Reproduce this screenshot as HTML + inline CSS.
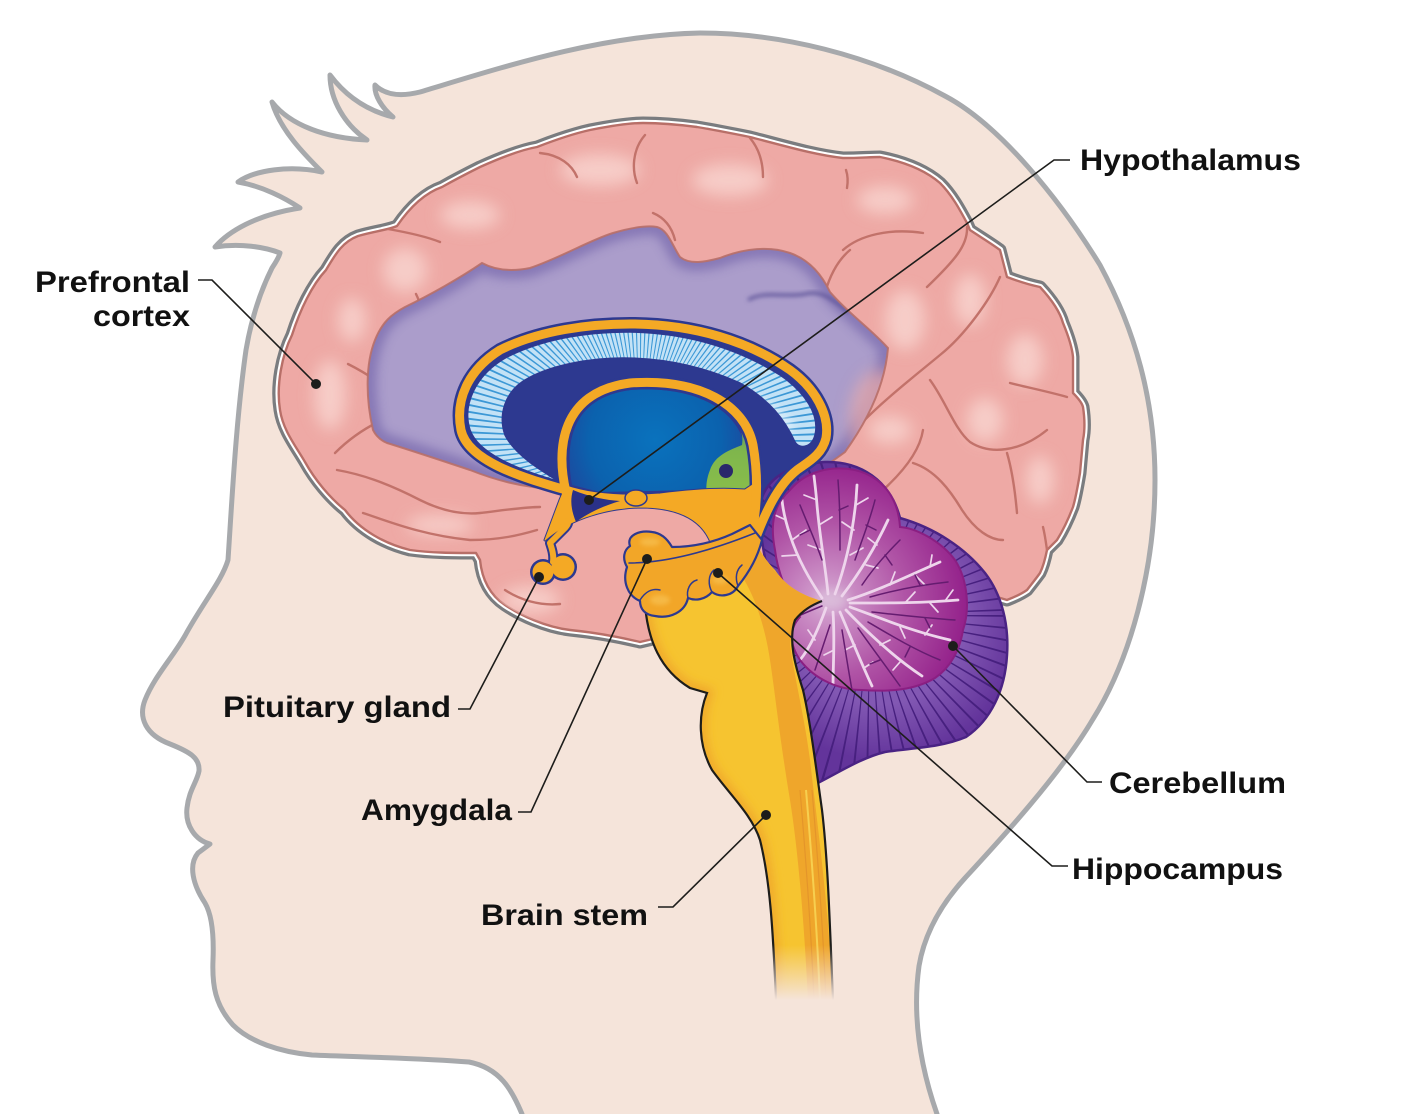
<!DOCTYPE html>
<html><head><meta charset="utf-8"><style>
html,body{margin:0;padding:0;background:#fff;}
svg{display:block;}
.lbl{font-family:"Liberation Sans",Arial,sans-serif;font-weight:bold;font-size:30px;fill:#111;}
</style></head><body>
<svg width="1401" height="1114" viewBox="0 0 1401 1114" xmlns="http://www.w3.org/2000/svg">
<defs>
<filter id="b2" x="-20%" y="-20%" width="140%" height="140%"><feGaussianBlur stdDeviation="2"/></filter>
<filter id="b5" x="-30%" y="-30%" width="160%" height="160%"><feGaussianBlur stdDeviation="5"/></filter>
<filter id="b8" x="-50%" y="-50%" width="200%" height="200%"><feGaussianBlur stdDeviation="8"/></filter>
<radialGradient id="gBlue" cx="655" cy="440" r="110" gradientUnits="userSpaceOnUse">
<stop offset="0" stop-color="#0a72bd"/><stop offset="0.6" stop-color="#0b62ae"/><stop offset="1" stop-color="#243f98"/></radialGradient>
<radialGradient id="gMag" cx="828" cy="600" r="140" gradientUnits="userSpaceOnUse">
<stop offset="0" stop-color="#d6acd4"/><stop offset="0.22" stop-color="#c786c1"/><stop offset="0.55" stop-color="#b054a6"/><stop offset="1" stop-color="#93208a"/></radialGradient>
<radialGradient id="gCb" cx="880" cy="620" r="140" gradientUnits="userSpaceOnUse">
<stop offset="0.6" stop-color="#8258b3"/><stop offset="1" stop-color="#63349b"/></radialGradient>
<linearGradient id="gGreen" x1="0" y1="395" x2="0" y2="520" gradientUnits="userSpaceOnUse">
<stop offset="0" stop-color="#2f6fa0"/><stop offset="0.45" stop-color="#7fb64c"/><stop offset="1" stop-color="#8fc24a"/></linearGradient>
<linearGradient id="gFade" x1="0" y1="945" x2="0" y2="1000" gradientUnits="userSpaceOnUse">
<stop offset="0" stop-color="#f5e4da" stop-opacity="0"/><stop offset="1" stop-color="#f5e4da" stop-opacity="1"/></linearGradient>
<clipPath id="cBrain"><path id="brainP" d="M 640,642 C 615,636 590,632 570,630 C 545,627 520,615 505,605 C 490,595 482,580 480,560 L 476,553 C 455,553 430,553 410,550 C 385,544 360,530 345,510 C 330,498 315,480 305,462 C 295,445 283,430 280,410 C 276,385 282,355 292,335 C 300,310 312,285 326,270 C 335,255 342,242 358,236 C 375,231 388,230 397,226 C 410,207 425,193 442,187 C 458,178 470,172 480,167 C 500,158 520,150 537,147 C 555,140 572,134 590,130 C 610,126 628,123 643,123 C 662,123 682,125 697,127 C 715,130 735,134 750,137 C 785,146 815,155 843,158 C 860,158 870,157 880,157 C 905,162 925,170 940,183 C 952,195 960,210 967,223 L 970,230 C 982,238 992,244 1000,250 L 1007,277 C 1020,282 1030,285 1040,287 C 1052,300 1060,312 1063,323 C 1068,335 1072,346 1073,357 L 1073,393 C 1078,398 1082,403 1083,407 C 1085,420 1085,430 1083,440 C 1082,452 1081,463 1080,473 C 1078,485 1076,497 1073,507 C 1068,520 1062,532 1057,540 L 1047,550 C 1045,560 1043,567 1040,573 C 1035,580 1030,586 1027,590 C 1020,595 1012,598 1007,600 L 997,597 L 900,612 L 800,612 L 700,628 Z"/></clipPath>
<clipPath id="cPurple"><path id="purpleP" d="M 373,430 C 366,400 365,365 375,340 C 382,322 392,314 405,307 C 430,295 460,278 482,263 C 495,270 510,272 530,268 C 560,258 590,240 613,233 C 630,228 645,225 657,227 C 668,230 672,245 680,257 C 690,265 705,262 720,258 C 745,248 770,246 790,253 C 810,260 822,275 830,292 C 850,315 870,328 888,348 C 885,385 868,420 845,452 L 820,470 L 560,492 C 548,490 540,488 533,487 C 510,484 490,478 470,470 C 440,460 410,450 387,443 C 380,440 376,436 373,430 Z"/></clipPath>
<clipPath id="cBand"><path id="bandP" d="M 563,484 C 530,472 480,458 470,430 C 462,405 475,375 507,357 C 545,338 590,332 630,332 C 690,333 740,350 780,375 C 805,392 820,415 815,435 C 812,447 800,450 795,442 C 785,420 770,400 740,383 C 700,365 660,358 623,358 C 590,358 550,365 525,380 C 505,392 498,415 505,435 C 515,455 540,470 563,484 Z"/></clipPath>
<clipPath id="cCb"><path id="cbP" d="M 800,790 L 790,700 L 780,620 C 770,580 758,540 760,505 C 765,478 790,464 825,462 C 860,461 890,480 900,518 C 935,528 965,548 985,573 C 1002,595 1009,625 1007,655 C 1005,690 991,720 966,737 C 940,748 910,748 885,752 C 860,758 835,775 808,788 Z"/></clipPath>
<clipPath id="cStem"><path id="stemP" d="M 645,605 C 648,640 660,670 690,688 L 707,693 C 698,715 698,745 712,770 C 730,795 752,815 760,840 C 770,880 773,930 776,1000 L 833,1000 C 830,930 828,860 822,810 C 815,760 810,720 803,690 C 795,665 788,640 795,620 C 803,610 812,605 822,601 C 800,595 785,585 775,570 C 765,560 760,550 757,545 L 700,560 Z"/></clipPath>
<clipPath id="cMag"><path id="magP" d="M 800,617 C 790,600 778,575 775,550 C 770,525 773,505 790,490 C 805,472 830,465 855,470 C 880,476 898,495 900,527 C 915,528 940,540 955,560 C 968,580 970,610 963,630 C 960,650 950,668 935,678 C 915,690 890,692 862,690 C 840,690 815,680 800,660 C 790,645 788,630 800,617 Z"/></clipPath>
</defs>

<!-- HEAD -->
<path d="M 522,1130 L 522,1114 C 512,1090 500,1068 469,1062 C 420,1058 360,1057 312,1055 C 280,1052 250,1042 233,1025 C 215,1005 212,985 213,960 C 214,935 212,915 205,903 C 193,885 188,865 198,853 L 210,844 C 195,840 185,825 187,808 C 189,790 197,782 199,771 C 200,758 190,752 170,744 C 146,735 138,718 145,700 C 155,675 175,655 187,632 C 205,600 222,580 228,560 C 232,500 236,420 246,350 C 252,315 262,288 272,268 C 276,262 279,257 280,253 C 265,247 240,243 215,247 C 228,232 255,215 300,208 C 285,198 262,186 238,182 C 255,170 290,165 322,172 C 305,155 280,130 272,102 C 290,125 325,138 367,140 C 345,125 330,100 330,75 C 345,95 365,110 393,117 C 382,108 374,95 375,85 C 385,95 400,97 420,92 C 500,68 600,35 700,33 C 780,33 870,55 945,96 C 1000,125 1060,200 1100,265 C 1135,330 1155,400 1155,480 C 1155,570 1130,660 1093,719 C 1060,775 1000,840 965,878 C 945,900 925,930 919,966 C 913,1010 918,1060 937,1114 L 937,1130 Z" fill="#f5e4da" stroke="#a7a9ac" stroke-width="5" stroke-linejoin="round"/>

<!-- BRAIN -->
<use href="#brainP" fill="none" stroke="#7a7c7f" stroke-width="13" stroke-linejoin="round"/>
<use href="#brainP" fill="none" stroke="#ffffff" stroke-width="6.5" stroke-linejoin="round"/>
<use href="#brainP" fill="#eea9a5" stroke="#b86f68" stroke-width="2.4" stroke-linejoin="round"/>
<g clip-path="url(#cBrain)">
<g fill="#f8d3ce" opacity="0.85" filter="url(#b8)">
<ellipse cx="600" cy="170" rx="40" ry="16"/><ellipse cx="730" cy="180" rx="38" ry="16"/><ellipse cx="470" cy="215" rx="30" ry="14"/>
<ellipse cx="405" cy="270" rx="22" ry="22"/><ellipse cx="330" cy="395" rx="16" ry="35"/><ellipse cx="352" cy="320" rx="14" ry="22"/>
<ellipse cx="885" cy="200" rx="28" ry="14"/><ellipse cx="970" cy="300" rx="16" ry="26"/><ellipse cx="1025" cy="360" rx="18" ry="26"/>
<ellipse cx="985" cy="420" rx="18" ry="22"/><ellipse cx="905" cy="320" rx="20" ry="30"/><ellipse cx="890" cy="430" rx="22" ry="14"/>
<ellipse cx="530" cy="600" rx="30" ry="14"/><ellipse cx="440" cy="525" rx="34" ry="10"/><ellipse cx="1040" cy="480" rx="14" ry="24"/>
</g>
<g fill="none" stroke="#c2726a" stroke-width="2.4" stroke-linecap="round">
<path d="M 540,153 C 560,155 572,165 577,177"/>
<path d="M 645,135 C 632,150 632,170 637,183"/>
<path d="M 750,138 C 760,150 763,165 763,177"/>
<path d="M 653,213 C 665,218 672,228 675,240"/>
<path d="M 388,229 C 405,232 425,236 440,242"/>
<path d="M 416,294 C 421,304 423,315 423,326"/>
<path d="M 348,364 C 360,370 368,375 377,381"/>
<path d="M 335,453 C 348,440 362,430 378,422"/>
<path d="M 337,470 C 360,474 385,482 420,500 C 440,510 460,515 480,513 C 505,510 525,507 540,507"/>
<path d="M 363,513 C 385,520 420,535 470,540 C 500,540 520,535 537,530"/>
<path d="M 846,170 C 848,176 848,182 847,188"/>
<path d="M 843,250 C 860,235 890,228 923,233"/>
<path d="M 967,227 C 968,245 955,260 927,287"/>
<path d="M 1000,277 C 990,300 965,335 940,355 C 910,380 870,410 840,447"/>
<path d="M 930,380 C 945,400 955,430 970,442 C 990,455 1020,452 1047,430"/>
<path d="M 1010,383 C 1030,388 1050,392 1067,397"/>
<path d="M 1007,453 C 1012,470 1015,490 1017,513"/>
<path d="M 923,430 C 920,450 905,470 883,490"/>
<path d="M 913,463 C 935,470 950,490 962,510 C 975,530 990,540 1003,540"/>
<path d="M 1043,527 C 1045,535 1046,543 1047,550"/>
<path d="M 825,293 C 830,275 838,260 850,250"/>
<path d="M 505,590 C 520,600 540,606 560,604"/>
</g>
</g>

<!-- PURPLE MEDIAL -->
<use href="#purpleP" fill="#ab9dcb"/>
<g clip-path="url(#cPurple)">
<use href="#purpleP" fill="none" stroke="#6f60a8" stroke-width="18" opacity="0.6" filter="url(#b5)"/>
<ellipse cx="880" cy="420" rx="30" ry="50" fill="#eeaca8" opacity="0.7" filter="url(#b8)"/>
<path d="M 748,300 C 765,290 785,298 805,294 C 820,290 832,298 848,312" fill="none" stroke="#5d5298" stroke-width="3" filter="url(#b2)"/>
</g>
<use href="#purpleP" fill="none" stroke="#b86f68" stroke-width="2" clip-path="url(#cBrain)" opacity="0.9"/>

<!-- NAVY REGION -->
<path d="M 566,492 C 525,480 468,464 459,430 C 452,400 466,368 498,348 C 540,328 590,320 630,320 C 697,320 752,338 793,366 C 820,386 834,414 830,440 C 826,458 812,466 800,474 C 782,488 770,515 757,550 L 720,500 L 600,495 Z" fill="#2d3990"/>
<!-- light blue band -->
<use href="#bandP" fill="#c3e2f6"/>
<g clip-path="url(#cBand)">
<circle cx="640" cy="440" r="135" fill="none" stroke="#3c98d6" stroke-width="110" stroke-dasharray="1.5 3.8"/>
<path d="M 600,470 C 560,430 560,390 630,372 C 700,372 760,400 790,430" fill="none" stroke="#e4f2fc" stroke-width="14" opacity="0.8" filter="url(#b5)"/>
</g>
<use href="#bandP" fill="none" stroke="#2d3990" stroke-width="1.5"/>
<!-- inner blue -->
<path d="M 572,485 C 565,445 570,398 630,390 C 695,385 738,410 745,447 C 750,480 748,500 745,510 L 700,490 L 600,492 Z" fill="url(#gBlue)"/>
<!-- green -->
<path d="M 708,395 C 730,405 745,425 742,445 C 730,450 715,455 710,470 C 702,490 708,508 720,515 C 733,522 748,518 752,510 L 756,440 C 750,420 735,405 708,395 Z" fill="url(#gGreen)"/>
<circle cx="726" cy="471" r="7" fill="#2a286b"/>

<!-- CEREBELLUM -->
<use href="#cbP" fill="url(#gCb)"/>
<g clip-path="url(#cCb)">
<circle cx="870" cy="615" r="115" fill="none" stroke="#47207f" stroke-width="170" stroke-dasharray="1.6 8.5"/>
</g>
<use href="#cbP" fill="none" stroke="#4a2384" stroke-width="2.5"/>
<use href="#magP" fill="url(#gMag)"/>
<g clip-path="url(#cMag)">
<ellipse cx="832" cy="600" rx="16" ry="10" fill="#dcc0db" opacity="0.8" filter="url(#b5)"/>
<g fill="none" stroke="#eed5ec" stroke-width="2.8" stroke-linecap="round">
<path d="M 822,598 C 810,580 798,560 790,535 C 785,520 783,510 782,500"/>
<path d="M 828,594 C 826,570 820,540 817,505 C 816,492 815,485 814,476"/>
<path d="M 835,594 C 844,570 852,540 856,500 L 857,485"/>
<path d="M 842,596 C 858,575 874,550 888,520"/>
<path d="M 848,600 C 880,590 910,575 940,562"/>
<path d="M 850,603 C 890,603 925,603 958,600"/>
<path d="M 850,607 C 885,620 915,632 950,640"/>
<path d="M 846,610 C 870,635 895,658 922,676"/>
<path d="M 840,612 C 852,640 862,665 872,686"/>
<path d="M 833,612 C 835,640 833,665 833,688"/>
<path d="M 826,608 C 818,630 810,648 800,660"/>
</g>
<g fill="none" stroke="#eed5ec" stroke-width="1.7" stroke-linecap="round">
<path d="M 798,555 L 782,556"/><path d="M 792,540 L 806,530"/><path d="M 786,520 L 775,515"/>
<path d="M 822,550 L 808,545"/><path d="M 819,525 L 832,517"/><path d="M 817,500 L 804,495"/>
<path d="M 850,555 L 863,548"/><path d="M 854,530 L 842,522"/><path d="M 856,505 L 868,498"/>
<path d="M 866,565 L 878,568"/><path d="M 877,545 L 868,538"/>
<path d="M 890,585 L 895,572"/><path d="M 915,575 L 925,585"/><path d="M 930,567 L 932,555"/>
<path d="M 905,603 L 915,592"/><path d="M 930,603 L 938,612"/><path d="M 945,601 L 953,590"/>
<path d="M 900,627 L 905,638"/><path d="M 925,635 L 932,625"/>
<path d="M 880,645 L 890,640"/><path d="M 900,662 L 893,670"/>
<path d="M 855,645 L 845,650"/><path d="M 864,668 L 873,662"/><path d="M 834,650 L 824,655"/><path d="M 815,640 L 808,630"/>
</g>
<g fill="none" stroke="#651c70" stroke-width="1.5" stroke-linecap="round">
<path d="M 800,505 C 808,525 815,540 822,560"/><path d="M 810,530 L 800,535"/>
<path d="M 838,480 C 840,505 840,525 840,550"/><path d="M 839,510 L 848,506"/>
<path d="M 875,500 C 870,520 862,540 855,560"/><path d="M 866,525 L 876,530"/>
<path d="M 900,540 C 885,555 872,570 862,585"/><path d="M 885,555 L 892,565"/>
<path d="M 948,582 C 920,585 895,590 870,597"/><path d="M 920,585 L 915,575"/>
<path d="M 955,620 C 925,618 900,615 872,612"/><path d="M 925,618 L 930,628"/>
<path d="M 940,660 C 915,650 890,635 868,622"/><path d="M 910,647 L 905,657"/>
<path d="M 900,686 C 885,665 870,645 858,628"/><path d="M 880,660 L 870,664"/>
<path d="M 852,690 C 848,668 845,648 842,630"/>
<path d="M 815,670 C 820,655 825,640 830,625"/>
<path d="M 790,620 C 800,615 812,610 822,606"/>
</g>
</g>
<use href="#magP" fill="none" stroke="#8a1f82" stroke-width="2"/>

<!-- BRAINSTEM -->
<use href="#stemP" fill="#f6c430"/>
<g clip-path="url(#cStem)">
<path d="M 757,545 C 770,570 790,590 822,601 C 805,610 792,625 790,645 C 795,680 805,720 810,760 C 818,830 828,900 833,1000 L 808,1000 C 804,920 798,850 790,800 C 780,740 776,700 770,660 C 764,620 752,590 738,570 Z" fill="#efa62b"/>
<path d="M 800,790 C 806,860 811,930 814,1000" fill="none" stroke="#e4952a" stroke-width="1.2"/>
<path d="M 806,790 C 812,860 817,930 820,1000" fill="none" stroke="#f7cf4f" stroke-width="2"/>
<path d="M 812,790 C 818,860 823,930 826,1000" fill="none" stroke="#e4952a" stroke-width="1.2"/>
<path d="M 645,605 C 648,640 660,670 690,688 L 707,693 C 698,715 698,745 712,770 C 730,795 752,815 760,840 C 770,880 773,930 776,1000" fill="none" stroke="#efa52b" stroke-width="10" filter="url(#b5)"/>
</g>
<path d="M 645,605 C 648,640 660,670 690,688 L 707,693 C 698,715 698,745 712,770 C 730,795 752,815 760,840 C 770,880 773,930 776,1000" fill="none" stroke="#1d1d1b" stroke-width="2.2"/>
<path d="M 833,1000 C 830,930 828,860 822,810 C 815,760 810,720 803,690 C 795,665 788,640 795,620 C 803,610 812,605 822,601" fill="none" stroke="#1d1d1b" stroke-width="2.2"/>

<!-- LIMBIC: navy outlines -->
<g fill="none" stroke="#2d3990" stroke-linecap="round" stroke-linejoin="round">
<path d="M 566,490 C 525,478 468,462 461,430 C 455,400 468,370 500,350 C 540,330 590,324 630,324 C 695,324 750,342 790,370 C 815,388 830,415 826,438 C 822,455 808,462 797,470 C 778,485 765,512 752,548" stroke-width="14"/>
<path d="M 566,492 C 556,450 560,392 630,383 C 700,378 745,405 753,445 C 760,485 756,520 748,550" stroke-width="14"/>
<path d="M 568,490 C 575,500 572,506 565,512 L 556,522 C 566,520 572,520 565,528 L 550,543 C 552,549 554,555 553,562" stroke-width="10"/>
<path d="M 545,540 C 565,522 600,508 640,507 C 680,507 705,520 713,548 L 748,545 L 760,480 L 745,490 C 720,488 690,490 660,494 C 620,497 590,494 566,486 L 560,500 Z" stroke-width="3"/>
</g>
<circle cx="543" cy="572" r="13" fill="#2d3990"/><circle cx="563" cy="567" r="14" fill="#2d3990"/>
<!-- yellows -->
<g fill="none" stroke="#f4a925" stroke-linecap="round" stroke-linejoin="round">
<path d="M 545,540 C 565,522 600,508 640,507 C 680,507 705,520 713,548 L 748,545 L 760,480 L 745,490 C 720,488 690,490 660,494 C 620,497 590,494 566,486 L 560,500 Z" fill="#f4a925" stroke-width="1"/>
<path d="M 566,490 C 525,478 468,462 461,430 C 455,400 468,370 500,350 C 540,330 590,324 630,324 C 695,324 750,342 790,370 C 815,388 830,415 826,438 C 822,455 808,462 797,470 C 778,485 765,512 752,548" stroke-width="9"/>
<path d="M 566,492 C 556,450 560,392 630,383 C 700,378 745,405 753,445 C 760,485 756,520 748,550" stroke-width="9"/>
<path d="M 568,490 C 575,500 572,506 565,512 L 556,522 C 566,520 572,520 565,528 L 550,543 C 552,549 554,555 553,562" stroke-width="6"/>
</g>
<circle cx="543" cy="572" r="10.5" fill="#f4a925"/><circle cx="563" cy="567" r="11.5" fill="#f4a925"/>
<!-- hypothalamus navy -->
<path d="M 573,490 C 590,497 605,500 620,501 C 603,506 588,513 576,522 C 571,510 570,500 573,490 Z" fill="#2a3188"/>
<ellipse cx="636" cy="498" rx="11" ry="8" fill="#f4a925" stroke="#2d3990" stroke-width="1.5"/>
<!-- amygdala + hippocampus block -->
<path d="M 630,546 C 626,535 640,530 652,532 C 662,533 668,540 672,547 C 692,547 712,543 732,534 L 750,525 L 762,540 C 757,560 747,575 738,586 C 733,596 720,598 712,592 C 705,600 695,601 688,598 C 685,612 670,619 655,616 C 645,615 640,609 640,601 C 628,596 622,582 627,567 C 622,558 624,550 630,546 Z" fill="#f2a628" stroke="#2d3990" stroke-width="2.2" stroke-linejoin="round"/>
<g fill="none" stroke="#2d3990" stroke-width="1.5" stroke-linecap="round">
<path d="M 629,563 C 660,563 700,555 755,533"/>
<path d="M 640,600 C 645,592 652,588 660,590"/>
<path d="M 688,598 C 686,590 690,582 697,580"/>
<path d="M 712,592 C 708,585 708,575 714,570"/>
<path d="M 738,586 C 735,578 736,570 742,565"/>
</g>
<g fill="#f8c65a" opacity="0.6" filter="url(#b2)">
<ellipse cx="650" cy="542" rx="10" ry="4"/><ellipse cx="660" cy="600" rx="10" ry="5"/><ellipse cx="720" cy="580" rx="8" ry="4"/>
</g>

<!-- brainstem bottom fade -->
<rect x="760" y="945" width="85" height="60" fill="url(#gFade)"/>

<!-- LEADERS -->
<g fill="none" stroke="#1d1d1b" stroke-width="1.6">
<path d="M 198,280 L 212,280 L 316,384"/>
<path d="M 1070,160 L 1054,160 L 589,500"/>
<path d="M 458,709 L 470,709 L 539,577"/>
<path d="M 518,812 L 531,812 L 647,559"/>
<path d="M 658,907 L 673,907 L 766,815"/>
<path d="M 1102,782 L 1087,782 L 953,646"/>
<path d="M 1068,866 L 1052,866 L 718,573"/>
</g>
<g fill="#1d1d1b">
<circle cx="316" cy="384" r="5"/><circle cx="589" cy="500" r="5"/><circle cx="539" cy="577" r="5"/>
<circle cx="647" cy="559" r="5"/><circle cx="766" cy="815" r="5"/><circle cx="953" cy="646" r="5"/><circle cx="718" cy="573" r="5"/>
</g>

<!-- LABELS -->
<text class="lbl" x="35" y="292" textLength="155" lengthAdjust="spacingAndGlyphs">Prefrontal</text>
<text class="lbl" x="93" y="326" textLength="97" lengthAdjust="spacingAndGlyphs">cortex</text>
<text class="lbl" x="1080" y="170" textLength="221" lengthAdjust="spacingAndGlyphs">Hypothalamus</text>
<text class="lbl" x="223" y="717" textLength="228" lengthAdjust="spacingAndGlyphs">Pituitary gland</text>
<text class="lbl" x="361" y="820" textLength="151" lengthAdjust="spacingAndGlyphs">Amygdala</text>
<text class="lbl" x="481" y="925" textLength="167" lengthAdjust="spacingAndGlyphs">Brain stem</text>
<text class="lbl" x="1109" y="793" textLength="177" lengthAdjust="spacingAndGlyphs">Cerebellum</text>
<text class="lbl" x="1072" y="879" textLength="211" lengthAdjust="spacingAndGlyphs">Hippocampus</text>
</svg>
</body></html>
